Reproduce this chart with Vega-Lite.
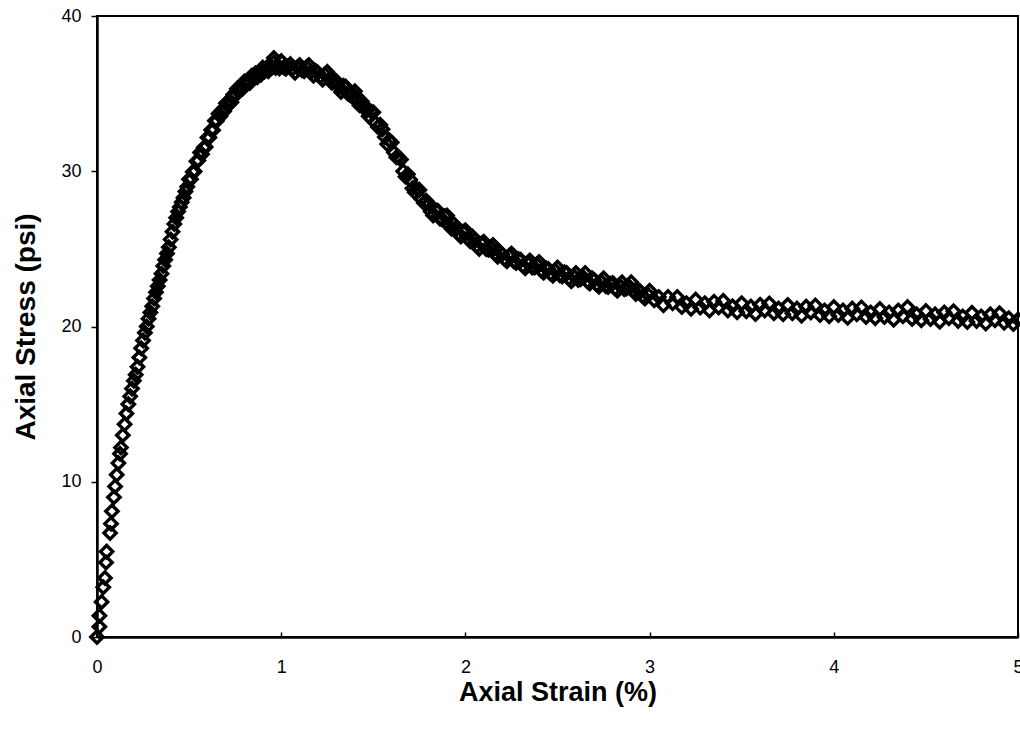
{
"$schema": "https://vega.github.io/schema/vega-lite/v6.json",
"autosize": {"type": "none"},
"padding": {"left": 97, "top": 16, "right": 2, "bottom": 101},
"width": 921,
"height": 621,
"background": "white",
"config": {"view": {"stroke": "black", "strokeWidth": 2}, "font": "Liberation Sans"},
"data": {"values": [
{"strain":0,"stress":0},{"strain":0.013,"stress":0.66},{"strain":0.013,"stress":1.37},{"strain":0.025,"stress":2.26},{"strain":0.034,"stress":3.2},{"strain":0.043,"stress":3.8},{"strain":0.049,"stress":4.8},{"strain":0.052,"stress":5.5},{"strain":0.071,"stress":6.7},{"strain":0.076,"stress":7.3},{"strain":0.081,"stress":8.1},{"strain":0.092,"stress":9.0},{"strain":0.098,"stress":9.7},{"strain":0.107,"stress":10.45},{"strain":0.116,"stress":11.2},{"strain":0.125,"stress":11.8},
{"strain":0.13,"stress":12.2},{"strain":0.14,"stress":13.0},{"strain":0.15,"stress":13.7},{"strain":0.16,"stress":14.4},{"strain":0.17,"stress":15.0},{"strain":0.18,"stress":15.5},{"strain":0.19,"stress":16.0},{"strain":0.2,"stress":16.5},{"strain":0.21,"stress":16.9},{"strain":0.22,"stress":17.4},{"strain":0.23,"stress":18.0},{"strain":0.24,"stress":18.6},{"strain":0.25,"stress":19.1},{"strain":0.26,"stress":19.6},{"strain":0.27,"stress":20.0},{"strain":0.28,"stress":20.5},{"strain":0.29,"stress":20.9},{"strain":0.3,"stress":21.3},{"strain":0.31,"stress":21.8},{"strain":0.32,"stress":22.2},{"strain":0.33,"stress":22.6},{"strain":0.34,"stress":23.0},{"strain":0.35,"stress":23.4},{"strain":0.36,"stress":23.9},{"strain":0.37,"stress":24.3},{"strain":0.38,"stress":24.7},{"strain":0.39,"stress":25.1},{"strain":0.4,"stress":25.6},{"strain":0.41,"stress":26.1},{"strain":0.42,"stress":26.6},{"strain":0.43,"stress":27.0},{"strain":0.44,"stress":27.4},{"strain":0.45,"stress":27.7},{"strain":0.46,"stress":28.0},{"strain":0.47,"stress":28.3},{"strain":0.48,"stress":28.7},{"strain":0.49,"stress":29.0},
{"strain":0.5,"stress":29.48},{"strain":0.51,"stress":29.48},{"strain":0.52,"stress":29.96},{"strain":0.53,"stress":29.99},{"strain":0.54,"stress":30.65},{"strain":0.55,"stress":30.69},{"strain":0.56,"stress":31.21},{"strain":0.57,"stress":31.1},{"strain":0.58,"stress":31.53},{"strain":0.59,"stress":31.57},{"strain":0.6,"stress":32.18},{"strain":0.61,"stress":32.18},{"strain":0.62,"stress":32.66},{"strain":0.63,"stress":32.64},{"strain":0.64,"stress":33.25},{"strain":0.65,"stress":33.24},{"strain":0.66,"stress":33.71},{"strain":0.67,"stress":33.55},{"strain":0.68,"stress":33.93},{"strain":0.69,"stress":33.87},{"strain":0.7,"stress":34.38},{"strain":0.71,"stress":34.23},{"strain":0.72,"stress":34.56},{"strain":0.73,"stress":34.44},{"strain":0.74,"stress":34.95},{"strain":0.75,"stress":34.89},{"strain":0.76,"stress":35.31},{"strain":0.77,"stress":35.1},{"strain":0.78,"stress":35.43},{"strain":0.79,"stress":35.32},{"strain":0.8,"stress":35.78},{"strain":0.81,"stress":35.58},{"strain":0.82,"stress":35.86},{"strain":0.83,"stress":35.69},{"strain":0.84,"stress":36.15},{"strain":0.85,"stress":35.99},{"strain":0.86,"stress":36.31},{"strain":0.87,"stress":36.05},{"strain":0.88,"stress":36.33},{"strain":0.89,"stress":36.22},{"strain":0.9,"stress":36.68},{"strain":0.91,"stress":36.43},{"strain":0.92,"stress":36.66},{"strain":0.93,"stress":36.44},{"strain":0.94,"stress":36.85},{"strain":0.95,"stress":36.69},{"strain":0.96,"stress":37.01},{"strain":0.96,"stress":37.3},{"strain":0.97,"stress":36.65},{"strain":0.98,"stress":36.83},{"strain":0.99,"stress":36.62},
{"strain":1.0,"stress":37.1},{"strain":1.0125,"stress":36.7},{"strain":1.025,"stress":36.6},{"strain":1.0375,"stress":36.75},{"strain":1.05,"stress":36.9},{"strain":1.0625,"stress":36.6},{"strain":1.075,"stress":36.35},{"strain":1.0875,"stress":36.7},{"strain":1.1,"stress":36.85},{"strain":1.1125,"stress":36.5},{"strain":1.125,"stress":36.45},{"strain":1.1375,"stress":36.7},{"strain":1.15,"stress":36.85},{"strain":1.1625,"stress":36.4},{"strain":1.175,"stress":36.15},{"strain":1.1875,"stress":36.45},{"strain":1.2,"stress":36.35},{"strain":1.2125,"stress":36.1},{"strain":1.225,"stress":35.9},{"strain":1.2375,"stress":36.25},{"strain":1.25,"stress":36.4},{"strain":1.2625,"stress":35.95},{"strain":1.275,"stress":35.7},{"strain":1.2875,"stress":35.9},{"strain":1.3,"stress":35.8},{"strain":1.3125,"stress":35.45},{"strain":1.325,"stress":35.1},{"strain":1.3375,"stress":35.5},{"strain":1.35,"stress":35.45},{"strain":1.3625,"stress":35.0},{"strain":1.375,"stress":34.9},{"strain":1.3875,"stress":35.0},{"strain":1.4,"stress":35.15},{"strain":1.4125,"stress":34.5},{"strain":1.425,"stress":34.25},{"strain":1.4375,"stress":34.5},{"strain":1.45,"stress":34.25},{"strain":1.4625,"stress":33.9},{"strain":1.475,"stress":33.55},{"strain":1.4875,"stress":33.85},{"strain":1.5,"stress":33.8},{"strain":1.5125,"stress":33.1},{"strain":1.525,"stress":32.85},{"strain":1.5375,"stress":33.0},{"strain":1.55,"stress":32.7},{"strain":1.5625,"stress":32.2},{"strain":1.575,"stress":31.75},{"strain":1.5875,"stress":32.0},{"strain":1.6,"stress":31.85},{"strain":1.6125,"stress":31.2},{"strain":1.625,"stress":30.9},{"strain":1.6375,"stress":30.9},{"strain":1.65,"stress":30.75},{"strain":1.6625,"stress":30.0},{"strain":1.675,"stress":29.65},{"strain":1.6875,"stress":29.8},{"strain":1.7,"stress":29.45},{"strain":1.7125,"stress":28.9},{"strain":1.725,"stress":28.65},{"strain":1.7375,"stress":28.85},{"strain":1.75,"stress":28.8},{"strain":1.7625,"stress":28.2},{"strain":1.775,"stress":27.95},{"strain":1.7875,"stress":28.1},{"strain":1.8,"stress":27.9},{"strain":1.8125,"stress":27.4},{"strain":1.825,"stress":27.15},{"strain":1.8375,"stress":27.5},{"strain":1.85,"stress":27.45},{"strain":1.8625,"stress":26.95},{"strain":1.875,"stress":26.9},{"strain":1.8875,"stress":27.1},{"strain":1.9,"stress":27.15},{"strain":1.9125,"stress":26.5},{"strain":1.925,"stress":26.3},{"strain":1.9375,"stress":26.6},{"strain":1.95,"stress":26.35},{"strain":1.9625,"stress":26.0},{"strain":1.975,"stress":25.8},{"strain":1.9875,"stress":26.1},
{"strain":2.0,"stress":26.2},{"strain":2.0125,"stress":25.7},{"strain":2.025,"stress":25.5},{"strain":2.0375,"stress":25.8},{"strain":2.05,"stress":25.6},{"strain":2.0625,"stress":25.2},{"strain":2.075,"stress":25.0},{"strain":2.0875,"stress":25.35},{"strain":2.1,"stress":25.45},{"strain":2.1125,"stress":25.0},{"strain":2.125,"stress":24.95},{"strain":2.1375,"stress":25.1},{"strain":2.15,"stress":25.25},{"strain":2.1625,"stress":24.7},{"strain":2.175,"stress":24.5},{"strain":2.1875,"stress":24.8},{"strain":2.2,"stress":24.65},{"strain":2.2125,"stress":24.35},{"strain":2.225,"stress":24.2},{"strain":2.2375,"stress":24.55},{"strain":2.25,"stress":24.7},{"strain":2.2625,"stress":24.2},{"strain":2.275,"stress":24.1},{"strain":2.2875,"stress":24.35},{"strain":2.3,"stress":24.3},{"strain":2.3125,"stress":23.9},{"strain":2.325,"stress":23.75},{"strain":2.3375,"stress":24.1},{"strain":2.35,"stress":24.25},{"strain":2.3625,"stress":23.8},{"strain":2.375,"stress":23.8},{"strain":2.3875,"stress":24.0},{"strain":2.4,"stress":24.15},{"strain":2.4125,"stress":23.6},{"strain":2.425,"stress":23.47},{"strain":2.4375,"stress":23.75},{"strain":2.45,"stress":23.7},{"strain":2.4625,"stress":23.4},{"strain":2.475,"stress":23.27},{"strain":2.4875,"stress":23.6},{"strain":2.5,"stress":23.8},{"strain":2.5125,"stress":23.3},{"strain":2.525,"stress":23.22},{"strain":2.5375,"stress":23.5},{"strain":2.55,"stress":23.45},{"strain":2.5625,"stress":23.1},{"strain":2.575,"stress":22.92},{"strain":2.5875,"stress":23.25},{"strain":2.6,"stress":23.45},{"strain":2.6125,"stress":23.0},{"strain":2.625,"stress":23.05},{"strain":2.6375,"stress":23.2},{"strain":2.65,"stress":23.45},{"strain":2.6625,"stress":22.9},{"strain":2.675,"stress":22.77},{"strain":2.6875,"stress":23.1},{"strain":2.7,"stress":23.0},{"strain":2.7125,"stress":22.7},{"strain":2.725,"stress":22.57},{"strain":2.7375,"stress":22.9},{"strain":2.75,"stress":23.1},{"strain":2.7625,"stress":22.6},{"strain":2.775,"stress":22.55},{"strain":2.7875,"stress":22.75},{"strain":2.8,"stress":22.8},{"strain":2.8125,"stress":22.45},{"strain":2.825,"stress":22.3},{"strain":2.8375,"stress":22.65},{"strain":2.85,"stress":22.85},{"strain":2.8625,"stress":22.4},{"strain":2.875,"stress":22.45},{"strain":2.8875,"stress":22.6},{"strain":2.9,"stress":22.85},{"strain":2.9125,"stress":22.3},{"strain":2.925,"stress":22.1},{"strain":2.9375,"stress":22.35},{"strain":2.95,"stress":22.25},{"strain":2.9625,"stress":21.95},{"strain":2.975,"stress":21.8},{"strain":2.9875,"stress":22.1},
{"strain":3.0,"stress":22.3},{"strain":3.025,"stress":21.7},{"strain":3.05,"stress":21.9},{"strain":3.075,"stress":21.37},{"strain":3.1,"stress":21.9},{"strain":3.125,"stress":21.5},{"strain":3.15,"stress":21.9},{"strain":3.175,"stress":21.25},{"strain":3.2,"stress":21.5},{"strain":3.225,"stress":21.14},{"strain":3.25,"stress":21.73},{"strain":3.275,"stress":21.22},{"strain":3.3,"stress":21.5},{"strain":3.325,"stress":21.03},{"strain":3.35,"stress":21.6},{"strain":3.375,"stress":21.23},{"strain":3.4,"stress":21.65},{"strain":3.425,"stress":21.03},{"strain":3.45,"stress":21.3},{"strain":3.475,"stress":20.92},{"strain":3.5,"stress":21.5},{"strain":3.525,"stress":20.99},{"strain":3.55,"stress":21.28},{"strain":3.575,"stress":20.81},{"strain":3.6,"stress":21.4},{"strain":3.625,"stress":21.04},{"strain":3.65,"stress":21.48},{"strain":3.675,"stress":20.86},{"strain":3.7,"stress":21.15},{"strain":3.725,"stress":20.79},{"strain":3.75,"stress":21.38},{"strain":3.775,"stress":20.86},{"strain":3.8,"stress":21.15},{"strain":3.825,"stress":20.69},{"strain":3.85,"stress":21.28},{"strain":3.875,"stress":20.91},{"strain":3.9,"stress":21.35},{"strain":3.925,"stress":20.74},{"strain":3.95,"stress":21.03},{"strain":3.975,"stress":20.66},
{"strain":4.0,"stress":21.25},{"strain":4.025,"stress":20.74},{"strain":4.05,"stress":21.03},{"strain":4.075,"stress":20.56},{"strain":4.1,"stress":21.15},{"strain":4.125,"stress":20.79},{"strain":4.15,"stress":21.23},{"strain":4.175,"stress":20.61},{"strain":4.2,"stress":20.9},{"strain":4.225,"stress":20.54},{"strain":4.25,"stress":21.13},{"strain":4.275,"stress":20.61},{"strain":4.3,"stress":20.9},{"strain":4.325,"stress":20.44},{"strain":4.35,"stress":21.03},{"strain":4.375,"stress":20.66},{"strain":4.4,"stress":21.25},{"strain":4.425,"stress":20.49},{"strain":4.45,"stress":20.78},{"strain":4.475,"stress":20.41},{"strain":4.5,"stress":21.0},{"strain":4.525,"stress":20.49},{"strain":4.55,"stress":20.78},{"strain":4.575,"stress":20.31},{"strain":4.6,"stress":20.9},{"strain":4.625,"stress":20.54},{"strain":4.65,"stress":20.98},{"strain":4.675,"stress":20.36},{"strain":4.7,"stress":20.65},{"strain":4.725,"stress":20.29},{"strain":4.75,"stress":20.88},{"strain":4.775,"stress":20.36},{"strain":4.8,"stress":20.65},{"strain":4.825,"stress":20.19},{"strain":4.85,"stress":20.78},{"strain":4.875,"stress":20.41},{"strain":4.9,"stress":20.85},{"strain":4.925,"stress":20.24},{"strain":4.95,"stress":20.53},{"strain":4.975,"stress":20.16},{"strain":5.0,"stress":20.45}
]},
"mark": {"type": "point", "shape": "diamond", "filled": false, "stroke": "black", "strokeWidth": 3.4, "size": 150, "opacity": 1, "clip": false},
"encoding": {
  "x": {"field": "strain", "type": "quantitative",
    "scale": {"domain": [0, 5], "nice": false, "zero": true},
    "axis": {"title": "Axial Strain (%)", "values": [0, 1, 2, 3, 4, 5], "format": "d", "grid": false,
      "domainColor": "black", "domainWidth": 2.5, "tickColor": "black", "tickSize": -5, "tickWidth": 1.5,
      "labelFont": "Liberation Sans", "labelFontSize": 18, "labelColor": "black", "labelPadding": 26, "labelFlush": false,
      "titleFont": "Liberation Sans", "titleFontSize": 27, "titleFontWeight": "bold", "titleColor": "black", "titlePadding": 3}},
  "y": {"field": "stress", "type": "quantitative",
    "scale": {"domain": [0, 40], "nice": false},
    "axis": {"title": "Axial Stress (psi)", "values": [0, 10, 20, 30, 40], "grid": false,
      "domainColor": "black", "domainWidth": 2.5, "tickColor": "black", "tickSize": 6, "tickWidth": 1.5,
      "labelFont": "Liberation Sans", "labelFontSize": 18, "labelColor": "black", "labelPadding": 10, "labelFlush": false,
      "titleFont": "Liberation Sans", "titleFontSize": 28, "titleFontWeight": "bold", "titleColor": "black", "titlePadding": 20}}
}
}
